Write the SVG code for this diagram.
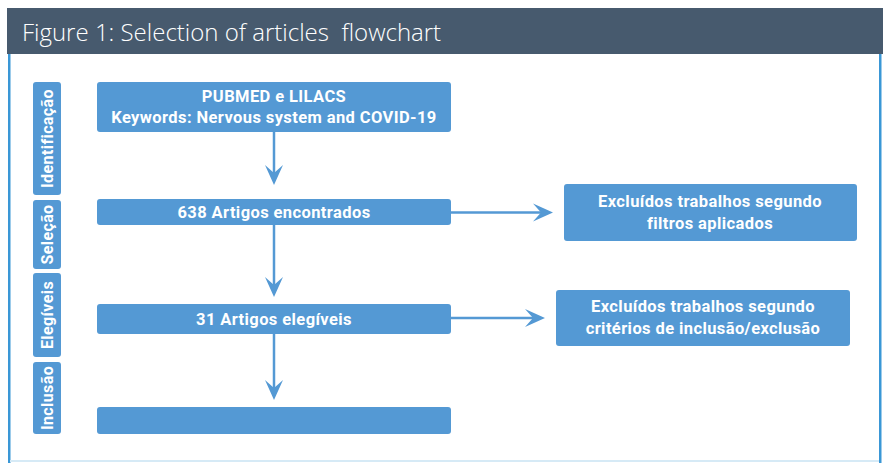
<svg xmlns="http://www.w3.org/2000/svg" width="883" height="463" viewBox="0 0 883 463">
<defs>
<style>
.box{fill:#5499d4;}
.t{fill:#fff;font-family:Roboto,"Noto Sans",sans-serif;font-weight:bold;font-size:16.5px;text-anchor:middle;letter-spacing:0.4px;}
.side{fill:#fff;font-family:Roboto,"Noto Sans",sans-serif;font-weight:bold;font-size:16px;text-anchor:middle;letter-spacing:0.4px;}
.c{stroke:#5499d4;stroke-width:2.5;fill:none;}
.ah{fill:#5499d4;}
</style>
</defs>
<rect x="0" y="0" width="883" height="463" fill="#fff"/>
<rect x="7" y="8" width="876" height="46" fill="#475a6e"/>
<text x="22" y="41" fill="#fff" font-family="'Open Sans',sans-serif" font-weight="300" font-size="24" style="white-space:pre">Figure 1: Selection of articles  flowchart</text>
<rect x="8" y="54" width="2.5" height="409" fill="#3a97d6"/>
<rect x="879" y="54" width="2.5" height="409" fill="#3a97d6"/>
<rect x="10" y="460" width="869" height="2" fill="#d6eaf6"/>

<g id="side-identificacao"><rect x="33" y="82" width="28" height="113" rx="3" class="box"/><text class="side" transform="translate(53,138.5) rotate(-90)">Identificação</text></g>
<g id="side-selecao"><rect x="33" y="200" width="28" height="69" rx="3" class="box"/><text class="side" transform="translate(53,234.5) rotate(-90)">Seleção</text></g>
<g id="side-elegiveis"><rect x="33" y="273" width="28" height="84" rx="3" class="box"/><text class="side" transform="translate(53,315) rotate(-90)">Elegíveis</text></g>
<g id="side-inclusao"><rect x="33" y="362" width="28" height="72" rx="3" class="box"/><text class="side" transform="translate(53,398) rotate(-90)">Inclusão</text></g>

<g id="n1"><rect x="97" y="82" width="354" height="50" rx="3" class="box"/><text class="t" x="274" y="102">PUBMED e LILACS</text><text class="t" x="274" y="123">Keywords: Nervous system and COVID-19</text></g>
<g id="n2"><rect x="97" y="199" width="354" height="26" rx="3" class="box"/><text class="t" x="274" y="218">638 Artigos encontrados</text></g>
<g id="n3"><rect x="97" y="304" width="354" height="30" rx="3" class="box"/><text class="t" x="274" y="325">31 Artigos elegíveis</text></g>
<g id="n4"><rect x="97" y="407" width="354" height="27" rx="3" class="box"/></g>
<g id="r1"><rect x="564" y="184" width="293" height="57" rx="3" class="box"/><text class="t" x="710" y="207">Excluídos trabalhos segundo</text><text class="t" x="710" y="229">filtros aplicados</text></g>
<g id="r2"><rect x="556" y="290" width="294" height="56" rx="3" class="box"/><text class="t" x="703" y="312">Excluídos trabalhos segundo</text><text class="t" x="703" y="334">critérios de inclusão/exclusão</text></g>

<g id="connectors">
<line class="c" x1="274" y1="132" x2="274" y2="178"/>
<path class="ah" d="M274,185 L265,165 L274,173 L283,165 Z"/>
<line class="c" x1="274" y1="225" x2="274" y2="290"/>
<path class="ah" d="M274,297 L265,277 L274,285 L283,277 Z"/>
<line class="c" x1="274" y1="334" x2="274" y2="393"/>
<path class="ah" d="M274,400 L265,380 L274,388 L283,380 Z"/>
<line class="c" x1="451" y1="212.5" x2="546" y2="212.5"/>
<path class="ah" d="M553,212.5 L533,203.5 L541,212.5 L533,221.5 Z"/>
<line class="c" x1="451" y1="318" x2="538" y2="318"/>
<path class="ah" d="M545,318 L525,309 L533,318 L525,327 Z"/>
</g>
</svg>
